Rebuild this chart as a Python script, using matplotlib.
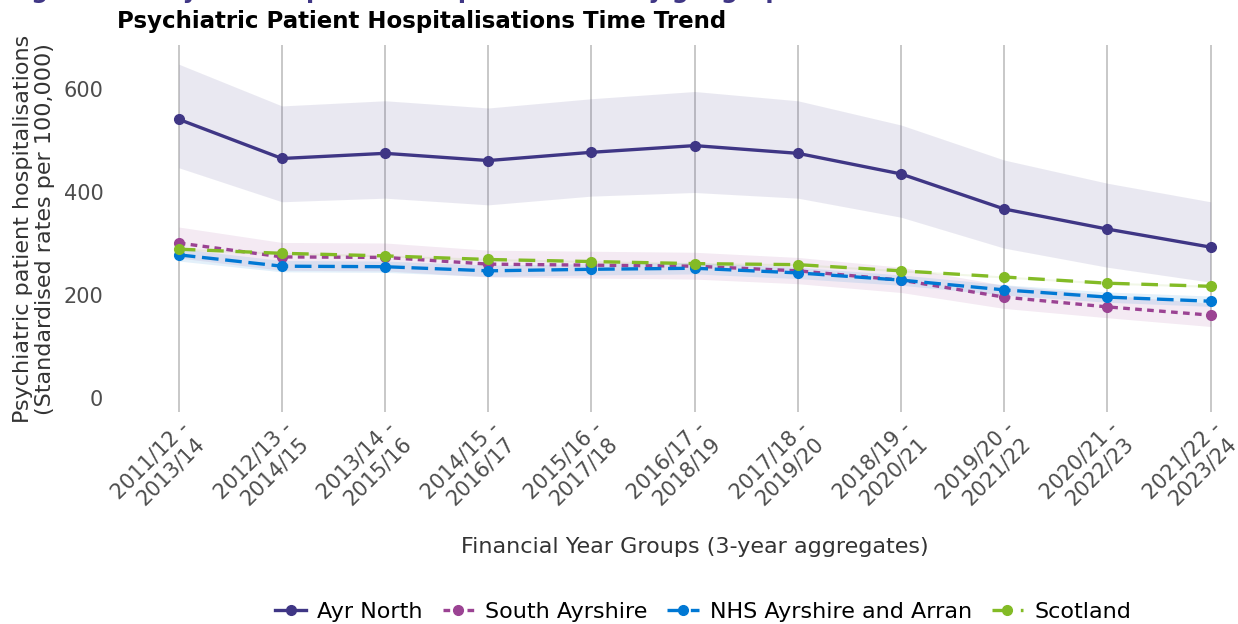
import matplotlib.pyplot as plt
import numpy as np

# 3-year aggregate periods
periods = ["2011/12 -\n2013/14", "2012/13 -\n2014/15", "2013/14 -\n2015/16",
           "2014/15 -\n2016/17", "2015/16 -\n2017/18", "2016/17 -\n2018/19",
           "2017/18 -\n2019/20", "2018/19 -\n2020/21", "2019/20 -\n2021/22",
           "2020/21 -\n2022/23", "2021/22 -\n2023/24"]

# standardised rates per 100,000 with confidence limits
ayr_north = [541, 465, 475, 461, 477, 490, 475, 435, 367, 328, 293]
ayr_north_lo = [447, 381, 388, 375, 392, 399, 388, 351, 291, 254, 225]
ayr_north_hi = [648, 567, 577, 563, 581, 595, 577, 530, 462, 417, 381]

south_ayrshire = [301, 274, 273, 260, 258, 256, 247, 229, 196, 177, 161]
south_ayrshire_lo = [272, 248, 247, 235, 233, 231, 222, 205, 174, 156, 139]
south_ayrshire_hi = [332, 302, 301, 287, 285, 283, 273, 254, 219, 200, 184]

nhs_aa = [278, 256, 255, 247, 250, 252, 243, 229, 210, 196, 188]
nhs_aa_lo = [266, 245, 244, 236, 239, 241, 232, 219, 200, 186, 178]
nhs_aa_hi = [290, 267, 266, 258, 261, 263, 254, 239, 220, 206, 198]

scotland = [289, 281, 276, 269, 265, 261, 259, 247, 235, 223, 217]
scotland_lo = [287, 279, 274, 267, 263, 259, 257, 245, 233, 221, 215]
scotland_hi = [291, 283, 278, 271, 267, 263, 261, 249, 237, 225, 219]

x = np.arange(len(periods))

fig = plt.figure(figsize=(12.38, 6.24), dpi=100)
ax = fig.add_axes([0.0969, 0.3397, 0.8926, 0.588])

series = [
    ("Ayr North", ayr_north, ayr_north_lo, ayr_north_hi, "#3f3685", "-"),
    ("South Ayrshire", south_ayrshire, south_ayrshire_lo, south_ayrshire_hi, "#9b4393", (0, (2, 1.6))),
    ("NHS Ayrshire and Arran", nhs_aa, nhs_aa_lo, nhs_aa_hi, "#0078d4", (0, (5, 2))),
    ("Scotland", scotland, scotland_lo, scotland_hi, "#83bb26", (0, (5, 3.5))),
]

for name, vals, lo, hi, col, ls in series:
    ax.fill_between(x, lo, hi, color=col, alpha=0.11, linewidth=0)
for name, vals, lo, hi, col, ls in series:
    ax.plot(x, vals, color=col, linestyle=ls, linewidth=2.4, marker="o",
            markersize=7, label=name)

ax.set_xlim(-0.57, 10.14)
ax.set_ylim(-27, 685)
ax.set_yticks([0, 200, 400, 600])
ax.set_xticks(x)
ax.set_xticklabels(periods, rotation=45, ha="right", va="top",
                   rotation_mode="anchor", linespacing=1.15)
ax.tick_params(axis="both", length=0, labelsize=15, labelcolor="#4d4d4d")
ax.tick_params(axis="y", pad=12)
ax.tick_params(axis="x", pad=4)
for s in ax.spines.values():
    s.set_visible(False)
ax.grid(axis="x", color="#c4c4c4", linewidth=1.3)
ax.grid(axis="y", visible=False)
ax.set_axisbelow(True)

ax.set_xlabel("Financial Year Groups (3-year aggregates)", fontsize=16,
              color="#333333", va="center")
ax.xaxis.set_label_coords(0.52, -0.368)
ax.set_ylabel("Psychiatric patient hospitalisations\n(Standardised rates per 100,000)",
              fontsize=16, color="#333333", labelpad=6, linespacing=1.1)

fig.text(0.0945, 0.965, "Psychiatric Patient Hospitalisations Time Trend",
         fontsize=16.5, fontweight="bold", color="black", va="center")
fig.text(0.006, 1.003, "Figure 10: Psychiatric patient hospitalisations by geographic area",
         fontsize=17, fontweight="bold", color="#3f3685", va="baseline")

fig.legend(loc="center", bbox_to_anchor=(703 / 1238, 12 / 624), ncol=4,
           frameon=False, fontsize=16, handlelength=1.4, columnspacing=0.9,
           handletextpad=0.5)

fig.savefig("out.png", dpi=100)
